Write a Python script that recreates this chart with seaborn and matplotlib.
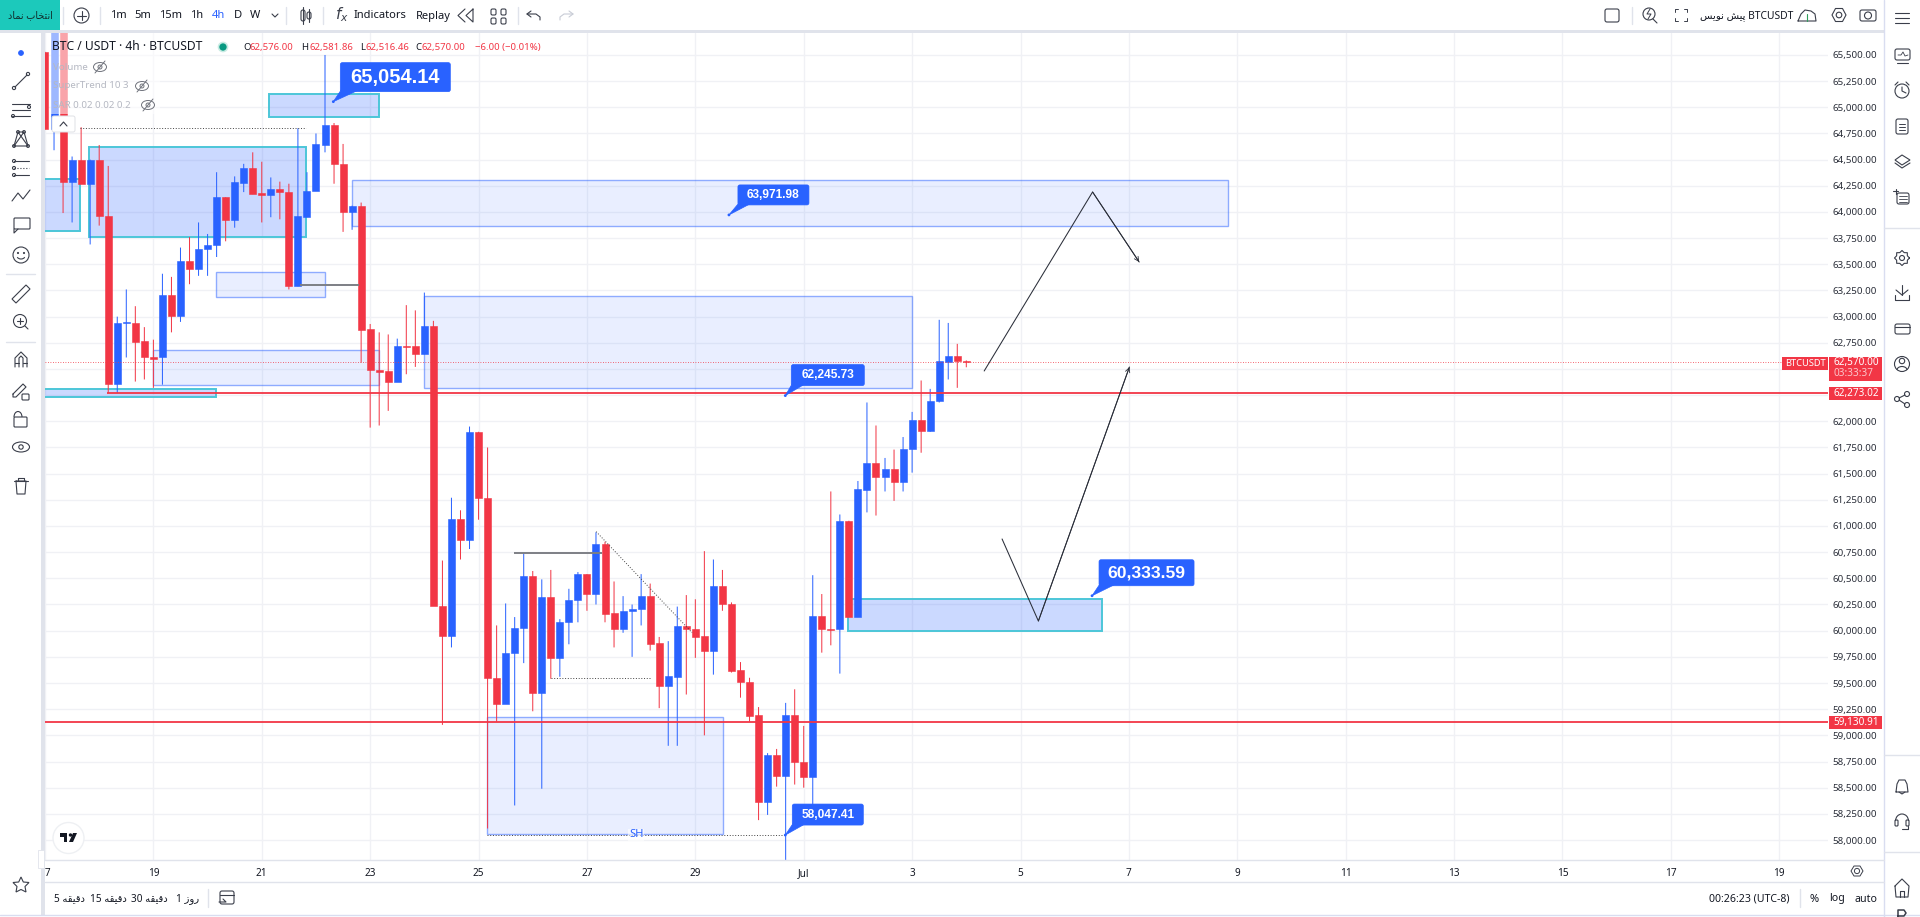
import matplotlib
matplotlib.use("Agg")
import matplotlib.pyplot as plt
from matplotlib.patches import Rectangle, Circle, FancyBboxPatch, Polygon, Arc, Ellipse
import numpy as np
import pandas as pd
import seaborn as sns

# BTC/USDT 4h candles, one every 4 hours starting 17 June
opens = [65530,64790,65800,64290,64500,64270,64500,63960,62360,62940,62940,62770,62610,62610,63210,63010,63530,63460,63650,63680,64140,63920,64280,64420,64180,64160,64220,64190,63290,63950,64200,64640,64830,64460,64000,64060,62880,62490,62480,62380,62720,62720,62640,62910,60240,59950,61070,60870,61900,61270,59550,59300,59790,60030,60520,59400,60320,59740,60080,60290,60540,60350,60830,60170,60020,60190,60210,60330,59880,59470,59560,60040,60020,59950,59810,60430,60250,59620,59510,59190,58360,58810,58610,59190,58750,58600,60140,60020,60020,61050,60130,61340,61600,61470,61540,61420,61740,62010,61910,62190,62570,62620,62576]
closes = [64790,65800,64290,64500,64270,64500,63960,62360,62940,62950,62760,62610,62600,63210,63010,63530,63460,63650,63680,64140,63920,64290,64420,64170,64160,64220,64190,63290,63960,64200,64650,64830,64460,64000,64060,62870,62490,62470,62380,62720,62710,62640,62910,60240,59950,61070,60870,61900,61270,59550,59300,59790,60030,60520,59400,60320,59740,60080,60290,60540,60350,60830,60160,60020,60190,60210,60330,59870,59470,59570,60040,60020,59940,59810,60430,60250,59610,59510,59180,58360,58810,58610,59190,58750,58600,60140,60020,60010,61050,60130,61350,61600,61470,61540,61420,61740,62010,61910,62190,62576,62620,62576,62570]
highs = [65530,65800,65800,64530,64810,64500,64640,64440,63000,63260,63100,62900,62780,63410,63380,63660,63760,63900,63790,64380,64140,64340,64460,64570,64480,64330,64290,64270,64800,64380,64750,65500,64850,64650,64060,64090,62930,62850,62830,62790,63110,63060,63230,62960,60670,61270,61150,61950,61900,61750,60050,60260,60130,60740,60570,60490,60580,60110,60400,60560,60540,60940,60850,60470,60330,60250,60540,60450,59940,59900,60230,60340,60300,60760,60680,60580,60270,59700,59550,59270,58830,58870,59310,59440,59090,60530,60350,61330,61110,61050,61430,62180,61960,61650,61730,61850,62090,62390,62310,62970,62940,62740,62581.86]
lows = [64790,64590,63990,63900,64270,63690,63870,62270,62270,62610,62380,62400,62320,62350,62850,62950,63310,63390,63390,63570,63720,63850,64190,64170,63900,63950,63930,63260,63290,63950,64200,64570,64270,63810,63830,62560,61940,61960,62100,62380,62450,62520,62640,60240,59100,59840,60680,60780,61060,58110,59130,59300,58330,59690,59230,58490,59540,59560,59870,60080,60190,60250,60080,59840,59980,59750,60050,59810,59260,58900,58900,59390,59740,59000,59580,60190,59600,59360,59130,58190,58240,58510,57800,58530,58500,58330,59790,59860,59590,60130,60130,61130,61100,61330,61240,61330,61510,61700,61900,62180,62400,62320,62516.46]
days = 17 + np.arange(len(opens)) / 6

# Time axis counts days from the start of June, so 1 July is day 31
day_ticks = [17, 19, 21, 23, 25, 27, 29, 31, 33, 35, 37, 39, 41, 43, 45, 47, 49]
day_labels = ["17", "19", "21", "23", "25", "27", "29", "Jul", "3", "5", "7", "9", "11", "13", "15", "17", "19"]
price_ticks = list(range(58000, 65501, 250))
prices_under_tags = [62500, 62250]

# Supply and demand zones: start day, end day, low, high
teal_zones = [(17.82, 21.82, 63761, 64621), (16.5, 17.65, 63819, 64315), (21.14, 23.17, 64908, 65127),
              (16.5, 20.15, 62233, 62309), (31.82, 36.51, 59997, 60306)]
light_zones = [(20.15, 22.16, 63188, 63427), (19.0, 23.17, 62347, 62682), (22.66, 38.83, 63866, 64306),
               (23.99, 32.99, 62322, 63198), (25.16, 29.51, 58055, 59172)]

# Hand-drawn projections on the chart
projection_up = ([34.33, 36.33, 37.19], [62481, 64191, 63522])
projection_dip = ([34.66, 35.33, 37.01], [60876, 60092, 62519])
solid_marks = [(21.71, 22.8, 63307), (25.66, 27.28, 60745)]
dotted_marks = [(17.65, 21.82, 64803), (26.34, 28.17, 59548), (25.16, 30.66, 58048)]
trend_days, trend_prices = [27.17, 28.94], [60946, 59981]

last_price = 62570.00
level_upper = 62273.02
level_lower = 59130.91

# Price callouts: tip day, stated price, box offset from the tip in pixels (left, top, width, height), font size
callouts = [(22.32, 65054.14, (7, -39, 110, 29), 14.5), (29.62, 63971.98, (9, -30, 71, 20), 8.6),
            (30.66, 62245.73, (6, -31, 73, 21), 8.6), (30.66, 58047.41, (7, -31, 71, 21), 8.6),
            (36.32, 60333.59, (7, -36, 95, 26), 12.6)]

BLUE = "#2962ff"
RED = "#f23645"
TEAL = "#4cc6d8"
INK = "#131722"
ICON = "#3a3e4a"
BAND = "#e0e3eb"
ZONE_RGB = (0.16, 0.38, 1.0)

sns.set_theme(style="whitegrid", rc={"axes.edgecolor": "white", "grid.color": "#f0f1f5", "grid.linewidth": 1.0})
plt.rcParams["font.family"] = ["Noto Sans", "DejaVu Sans"]

# Persian labels need contextual letter forms and visual ordering
FORMS = {"ا": "\uFE8D\uFE8E", "د": "\uFEA9\uFEAA", "ر": "\uFEAD\uFEAE", "ز": "\uFEAF\uFEB0", "و": "\uFEED\uFEEE",
         "ب": "\uFE8F\uFE90\uFE91\uFE92", "پ": "\uFB56\uFB57\uFB58\uFB59", "ت": "\uFE95\uFE96\uFE97\uFE98",
         "خ": "\uFEA5\uFEA6\uFEA7\uFEA8", "س": "\uFEB1\uFEB2\uFEB3\uFEB4", "ش": "\uFEB5\uFEB6\uFEB7\uFEB8",
         "ق": "\uFED5\uFED6\uFED7\uFED8", "م": "\uFEE1\uFEE2\uFEE3\uFEE4", "ن": "\uFEE5\uFEE6\uFEE7\uFEE8",
         "ه": "\uFEE9\uFEEA\uFEEB\uFEEC", "ی": "\uFBFC\uFBFD\uFBFE\uFBFF"}


def shape(text):
    out = []
    for i, ch in enumerate(text):
        if ch not in FORMS:
            out.append(ch)
            continue
        prev_ch = text[i - 1] if i else ""
        next_ch = text[i + 1] if i + 1 < len(text) else ""
        joins_prev = prev_ch in FORMS and len(FORMS[prev_ch]) == 4
        joins_next = next_ch in FORMS and len(FORMS[ch]) == 4
        out.append(FORMS[ch][joins_prev + 2 * joins_next if joins_next else int(joins_prev)])
    return "".join(reversed(out))


fig = plt.figure(figsize=(19.2, 9.17), dpi=100, facecolor="white")
ax = fig.add_axes([45 / 1920, 57 / 917, 1783 / 1920, 827 / 917])
ax.set_xlim(17.007, 49.9)
ax.set_ylim(57809, 65710)
ax.set_axisbelow(True)
sns.despine(ax=ax, left=True, bottom=True)

ax.set_xticks(day_ticks, day_labels, fontsize=7.2, color=INK)
ax.set_yticks(price_ticks, ["" if v in prices_under_tags else f"{v:,.2f}" for v in price_ticks],
              fontsize=7, color="#2a2e39")
ax.yaxis.tick_right()
ax.tick_params(axis="x", length=0, pad=5.5)
ax.tick_params(axis="y", length=0, pad=35.3)
for tick_label in ax.get_yticklabels():
    tick_label.set_ha("right")

# Zones sit under the candles and let the grid show through
for start, end, low, high in light_zones:
    ax.add_patch(Rectangle((start, low), end - start, high - low, facecolor=ZONE_RGB + (0.10,),
                           edgecolor=ZONE_RGB + (0.5,), lw=1.0, zorder=1))
for start, end, low, high in teal_zones:
    ax.add_patch(Rectangle((start, low), end - start, high - low, facecolor=ZONE_RGB + (0.24,),
                           edgecolor=TEAL, lw=1.4, zorder=1.2))

# Candles
candles = pd.DataFrame({"day": days, "open": opens, "high": highs, "low": lows, "close": closes})
candles["color"] = np.where(candles["close"] >= candles["open"], BLUE, RED)
wicks = ax.vlines(candles["day"], candles["low"], candles["high"], colors=candles["color"], lw=0.72, zorder=3)
wicks.set_snap(False)
ax.bar(candles["day"], candles["close"] - candles["open"], bottom=candles["open"], width=7 / 54.2,
       color=candles["color"], edgecolor=candles["color"], lw=0.4, zorder=3.2)

# Key levels and the last-price line
ax.hlines(level_upper, 18.15, 49.9, color=RED, lw=1.3, zorder=4)
ax.hlines(level_lower, 17.0, 49.9, color=RED, lw=1.3, zorder=4)
ax.hlines(last_price, 17.0, 49.9, color=RED, lw=0.6, linestyles=(0, (1, 2)), zorder=4)

for start, end, price in solid_marks:
    ax.hlines(price, start, end, color="#7d7f85", lw=1.4, zorder=4)
for start, end, price in dotted_marks:
    ax.hlines(price, start, end, color="#444", lw=0.7, linestyles=(0, (1, 1.8)), zorder=4)
ax.plot(trend_days, trend_prices, color="#444", lw=0.7, ls=(0, (1, 1.8)), zorder=4)
ax.text(27.91, 58048, "SH", color=BLUE, fontsize=8, ha="center", va="center", zorder=5,
        bbox=dict(facecolor="white", edgecolor="none", pad=0.6, alpha=0.6))

paths = pd.concat([pd.DataFrame({"path": name, "day": d, "price": p})
                   for name, (d, p) in {"up": projection_up, "dip": projection_dip}.items()])
sns.lineplot(data=paths, x="day", y="price", units="path", estimator=None, sort=False, color="#2a2e39",
             lw=0.75, legend=False, ax=ax, zorder=5)
for d, p in (projection_up, projection_dip):
    ax.annotate("", xy=(d[-1], p[-1]), xytext=(d[-2], p[-2]), zorder=5,
                arrowprops=dict(arrowstyle="->", color="#2a2e39", lw=0.6, mutation_scale=8, shrinkA=0, shrinkB=0))
ax.set_xlabel("")
ax.set_ylabel("")

# Overlay measured in screen pixels for the toolbars, price tags and callouts
ov = fig.add_axes([0, 0, 1, 1], zorder=10)
ov.set_xlim(0, 1920)
ov.set_ylim(917, 0)
ov.axis("off")
ov.patch.set_alpha(0)


def rect(x0, y0, x1, y1, color, **kw):
    ov.add_patch(Rectangle((x0, y0), x1 - x0, y1 - y0, facecolor=color, edgecolor="none", **kw))


def ln(xs, ys, color=ICON, lw=0.8, **kw):
    ov.plot(xs, ys, color=color, lw=lw, solid_capstyle="round", **kw)


def ring(x, y, r, color=ICON, lw=0.8, fill="none"):
    ov.add_patch(Circle((x, y), r, facecolor=fill, edgecolor=color, lw=lw))


def box(x0, y0, x1, y1, color=ICON, lw=0.8, radius=2):
    ov.add_patch(FancyBboxPatch((x0, y0), x1 - x0, y1 - y0, boxstyle=f"round,pad=0,rounding_size={radius}",
                                facecolor="none", edgecolor=color, lw=lw))


def label(x, y, text, size=8, color=INK, ha="center", **kw):
    ov.text(x, y, text, fontsize=size, color=color, ha=ha, va="center", **kw)


def eye(x, y, color, w=13, h=9, lw=0.7, struck=False):
    ov.add_patch(Ellipse((x, y), w, h, facecolor="none", edgecolor=color, lw=lw))
    ring(x, y, h * 0.22, color=color, lw=lw)
    if struck:
        ln([x - 5, x + 5], [y + 6, y - 6], color=color, lw=lw)


# Panel backgrounds and separators
rect(0, 0, 1920, 30, "white")
rect(0, 30, 1884, 33, BAND)
rect(0, 33, 41, 917, "white")
rect(41, 33, 45, 915, BAND)
rect(1884, 30, 1920, 917, "white")
ln([1884, 1884], [0, 917], color="#d9ddf0", lw=1)
ln([45, 1884], [860, 860], color=BAND, lw=1)
ln([45, 1884], [882, 882], color=BAND, lw=1)
ln([0, 1920], [914.5, 914.5], color="#d9ddf0", lw=1)
for y in (228, 755, 852):
    ln([1884, 1920], [y, y], color=BAND, lw=1)
ln([6, 35], [274, 274], color=BAND, lw=1)
ln([6, 35], [342, 342], color=BAND, lw=1)

# Top toolbar
rect(0, 0, 60, 30, "#1cc9bb")
label(30, 15, shape("انتخاب نماد"), size=7, color="#10302e")
for x in (63, 100, 286, 323, 517.5, 1632):
    ln([x, x], [7, 24], color=BAND, lw=1)
ring(81.5, 15.5, 7.5)
ln([77, 86], [15.5, 15.5])
ln([81.5, 81.5], [11, 20])
for x, text, color in [(118, "1m", INK), (143, "5m", INK), (171, "15m", INK), (197, "1h", INK),
                       (218, "4h", BLUE), (237.5, "D", INK), (255, "W", INK)]:
    label(x, 16, text, size=8, color=color)
ln([272, 275, 278], [14, 17, 14])
box(301, 10, 305, 21)
box(307, 12, 311, 19)
ln([303, 303], [7, 24])
ln([309, 309], [9, 22])
label(342, 15, "$f_x$", size=11, color=ICON)
label(380, 16, "Indicators", size=8)
label(433, 16, "Replay", size=8)
ln([465, 458, 465], [9, 15.5, 22])
ln([473, 466, 473, 473], [9, 15.5, 22, 9])
for gx in (493, 503):
    for gy in (10, 19):
        box(gx - 2, gy - 1, gx + 3, gy + 5, radius=1.5)
ln([531, 527, 531], [11, 14, 17])
ln([527, 536, 540, 540], [14, 14, 17, 20])
ln([569, 573, 569], [11, 14, 17], color="#c8ccd6")
ln([573, 564, 560, 560], [14, 14, 17, 20], color="#c8ccd6")
box(1605, 9, 1619, 22)
ring(1649, 14, 6)
ln([1653, 1657], [19, 23])
ln([1650, 1647, 1651, 1648], [9, 14, 14, 19], lw=0.7)
for sx, sy in ((-1, -1), (1, -1), (-1, 1), (1, 1)):
    cx, cy = 1681 + 6 * sx, 15 + 6 * sy
    ln([cx - 3 * sx, cx, cx], [cy, cy, cy - 3 * sy], lw=0.7)
label(1747, 16, shape("پیش نویس") + " BTCUSDT", size=7.4)
ln([1798, 1801, 1805, 1811, 1815, 1816, 1798], [21, 14, 10, 11, 14, 21, 21])
ln([1807, 1807], [21, 14], color="#2e9e5b", lw=0.8)
ov.add_patch(Polygon([(1832, 15), (1835.5, 8.5), (1842.5, 8.5), (1846, 15), (1842.5, 21.5), (1835.5, 21.5)],
                     facecolor="none", edgecolor=ICON, lw=0.8))
ring(1839, 15, 2.8)
box(1860, 10, 1876, 21)
ring(1868, 15.5, 3.5)

# Drawing tools on the left
ring(21, 53, 2.3, color=BLUE, fill=BLUE)
ln([15, 27], [87, 75])
ring(14, 88, 1.6, fill="white")
ring(28, 74, 1.6, fill="white")
for y in (104, 110, 116):
    ln([12, 30], [y, y])
ring(29, 107, 1.5, fill="white")
ring(13, 116, 1.5, fill="white")
ln([14, 18, 24, 28, 14], [146, 132, 132, 146, 146])
ln([18, 28], [132, 146])
ln([24, 14], [132, 146])
for px, py in ((14, 146), (18, 132), (24, 132), (28, 146)):
    ring(px, py, 1.4, fill="white")
for y in (161, 168, 175):
    ln([14, 29], [y, y], ls=":" if y == 168 else "-")
    ring(14, y, 1.5, fill="white")
ln([12, 18, 23, 30], [201, 193, 199, 190])
box(14, 218, 30, 229, radius=1)
ln([14, 14, 18], [229, 233, 229])
ring(21, 255, 8)
ring(18, 253, 0.5)
ring(24, 253, 0.5)
ov.add_patch(Arc((21, 255), 9, 8, theta1=30, theta2=150, edgecolor=ICON, lw=0.8))
ov.add_patch(Polygon([(12, 299), (26, 285), (30, 289), (16, 303)], facecolor="none", edgecolor=ICON, lw=0.8))
ring(20, 321, 6.5)
ln([25, 28], [326, 329])
ln([17, 23], [321, 321])
ln([20, 20], [318, 324])
ln([15, 15, 21, 27, 27], [367, 358, 352, 358, 367])
ln([19, 19, 21, 23, 23], [367, 358, 356, 358, 367])
ln([15, 19], [363, 363])
ln([23, 27], [363, 363])
ln([13, 23, 26, 16, 13, 13], [394, 384, 387, 397, 397, 394])
box(22, 394, 29, 400, radius=1)
box(14, 417, 27, 427, radius=1)
ov.add_patch(Arc((18, 417), 8, 11, theta1=180, theta2=360, edgecolor=ICON, lw=0.8))
eye(21, 447, ICON, w=17, h=10, lw=0.8)
ln([14, 28], [481, 481])
ln([18, 18, 24, 24], [481, 478, 478, 481])
ln([16, 17, 25, 26, 16], [481, 494, 494, 481, 481])
ov.add_patch(Polygon([(21, 877), (23.3, 882), (29, 882.5), (25, 886.5), (26, 892), (21, 889.5), (16, 892), (17, 886.5), (13, 882.5), (18.7, 882)],
                     facecolor="none", edgecolor=ICON, lw=0.8))

# Tools on the right
ln([1895, 1909], [13, 13])
ln([1895, 1909], [18, 18])
ln([1895, 1909], [23, 23])
box(1895, 49, 1910, 60)
ln([1898, 1901, 1903, 1905, 1908], [55, 55, 52, 56, 55], lw=0.6)
ln([1897, 1908], [63, 63])
ring(1902, 91, 7)
ln([1902, 1902, 1906], [87, 91, 93])
ln([1895, 1898], [85, 82])
ln([1906, 1909], [82, 85])
box(1896, 119, 1908, 134)
for y in (124, 127, 130):
    ln([1899, 1905], [y, y], lw=0.7)
ov.add_patch(Polygon([(1895, 160), (1902, 155), (1910, 160), (1902, 165)], facecolor="none", edgecolor=ICON, lw=0.8))
ln([1895, 1902, 1910], [163, 168, 163])
box(1897, 193, 1909, 204)
for y in (196, 199, 202):
    ln([1899, 1907], [y, y], lw=0.6)
ln([1893, 1898], [191, 191])
ln([1895.5, 1895.5], [189, 194])
gear_angles = np.linspace(0, 2 * np.pi, 17)
gear_radii = np.where(np.arange(17) % 2 == 0, 7.5, 5.8)
ln(1902 + gear_radii * np.cos(gear_angles), 258 + gear_radii * np.sin(gear_angles))
ring(1902, 258, 2.5)
ln([1902, 1902], [285, 295])
ln([1896, 1902, 1908], [290, 295, 290])
ln([1895, 1895, 1909, 1909], [295, 300, 300, 295])
box(1895, 324, 1910, 334)
ln([1895, 1910], [327, 327])
ring(1902, 364, 7.5)
ring(1902, 361, 2.7)
ov.add_patch(Arc((1902, 370), 10, 7, theta1=180, theta2=360, edgecolor=ICON, lw=0.8))
ring(1897, 399, 2.5)
ring(1907, 394, 2.5)
ring(1907, 405, 2.5)
ln([1899, 1905], [398, 395])
ln([1899, 1905], [400, 404])
ln([1896, 1897, 1899, 1905, 1907, 1908, 1896], [792, 784, 780, 780, 784, 792, 792])
ln([1899, 1902, 1905], [792, 794, 792])
ov.add_patch(Arc((1902, 821), 13, 14, theta1=180, theta2=360, edgecolor=ICON, lw=0.8))
box(1895, 820, 1898, 826, radius=1)
box(1906, 820, 1909, 826, radius=1)
ln([1907.5, 1907.5, 1902], [826, 829, 829])
ln([1895, 1902, 1909, 1908, 1896, 1895], [886, 879, 886, 897, 897, 886])
ln([1900, 1900, 1904, 1904], [897, 891, 891, 897])
# Top of the next tool, cut off by the window edge
ln([1898, 1898, 1904, 1906, 1904, 1898], [917, 910, 910, 913, 916, 916], lw=1.1)

# Bottom bar
for x, n in ((69.5, 5), (108, 15), (149, 30)):
    label(x, 899, f"{n} " + shape("دقیقه"), size=7.2)
label(187.5, 899, "1 " + shape("روز"), size=7.2)
ln([208, 208], [889, 907], color=BAND, lw=1)
box(220, 891, 234, 904)
ln([220, 234], [895, 895])
ln([219, 226, 223], [902, 902, 899])
label(1749.5, 899, "00:26:23 (UTC-8)", size=7.6)
ln([1800, 1800], [889, 907], color=BAND, lw=1)
label(1814, 899, "%", size=8)
label(1837, 899, "log", size=7.6)
label(1866, 899, "auto", size=7.6)
ring(1857, 871, 2.6, lw=0.7)
ov.add_patch(Polygon([(1851, 871), (1854, 866), (1860, 866), (1863, 871), (1860, 876), (1854, 876)],
                     facecolor="none", edgecolor=ICON, lw=0.7))
ov.add_patch(Rectangle((38, 850), 6, 18, facecolor="white", edgecolor=BAND, lw=0.6))

# Chart logo
ring(68.5, 838, 15.5, color="#eef0f3", lw=1, fill="white")
ov.add_patch(Polygon([(60, 833), (67, 833), (67, 842), (63.5, 842), (63.5, 836.5), (60, 836.5)], facecolor=INK, edgecolor="none"))
ring(70.5, 835, 1.7, color=INK, fill=INK, lw=0)
ov.add_patch(Polygon([(73, 833), (77, 833), (73, 842), (69, 842)], facecolor=INK, edgecolor="none"))

# Series legend
rect(50, 33, 160, 114, "white", alpha=0.55)
label(52, 47, "BTC / USDT · 4h · BTCUSDT", size=8.7, ha="left")
ring(223, 47, 4.5, color="#c9ece4", lw=1.2, fill="#089981")
for x, text, color in [(243, "O", INK), (250, "62,576.00", RED), (301, "H", INK), (309, "62,581.86", RED),
                       (360, "L", INK), (365.5, "62,516.46", RED), (415.5, "C", INK), (422, "62,570.00", RED),
                       (475, "−6.00 (−0.01%)", RED)]:
    label(x, 47.5, text, size=6.9, color=color, ha="left")
for y, text, eye_x in [(67, "Volume", 100), (86, "SuperTrend 10 3", 142), (105, "SAR 0.02 0.02 0.2", 148)]:
    label(53, y, text, size=7, color="#b5b8c2", ha="left")
    eye(eye_x, y, "#70737c", struck=True)
ov.add_patch(FancyBboxPatch((52, 116), 23, 16, boxstyle="round,pad=0,rounding_size=2", facecolor="white", edgecolor="#dfe1e6", lw=0.7))
ln([60, 63.5, 67], [126, 122, 126], lw=0.8)

# Price tags on the scale
rect(1782, 357, 1828, 370, RED)
label(1805, 363.5, "BTCUSDT", size=6.7, color="white")
rect(1829, 357, 1882, 381, RED)
label(1856, 363, f"{last_price:,.2f}", size=7.2, color="white")
label(1853, 374, "03:33:37", size=7.2, color="#fbc6cb")
rect(1829, 387, 1882, 400, RED)
label(1856, 393.5, f"{level_upper:,.2f}", size=7.2, color="white")
rect(1829, 716, 1882, 729, RED)
label(1856, 722.5, f"{level_lower:,.2f}", size=7.2, color="white")

# Callouts anchored at the price they state
for day, price, (dx, dy, w, h), size in callouts:
    px, py = ax.transData.transform((day, price))
    tip_x, tip_y = px, 917 - py
    bx, by = tip_x + dx, tip_y + dy
    ov.add_patch(Polygon([(tip_x, tip_y), (bx + 1, by + h - 2), (bx + 1 + h * 0.55, by + h - 1)], facecolor=BLUE, edgecolor=BLUE, lw=0.5))
    ov.add_patch(FancyBboxPatch((bx, by), w, h, boxstyle="round,pad=0,rounding_size=2", facecolor=BLUE, edgecolor=BLUE, lw=0.5))
    ring(tip_x, tip_y, 1.4, color=BLUE, fill=BLUE, lw=0)
    label(bx + w / 2, by + h / 2, f"{price:,.2f}", size=size, color="white", fontweight="bold", family="Liberation Sans")

fig.savefig("out.png", dpi=100)
